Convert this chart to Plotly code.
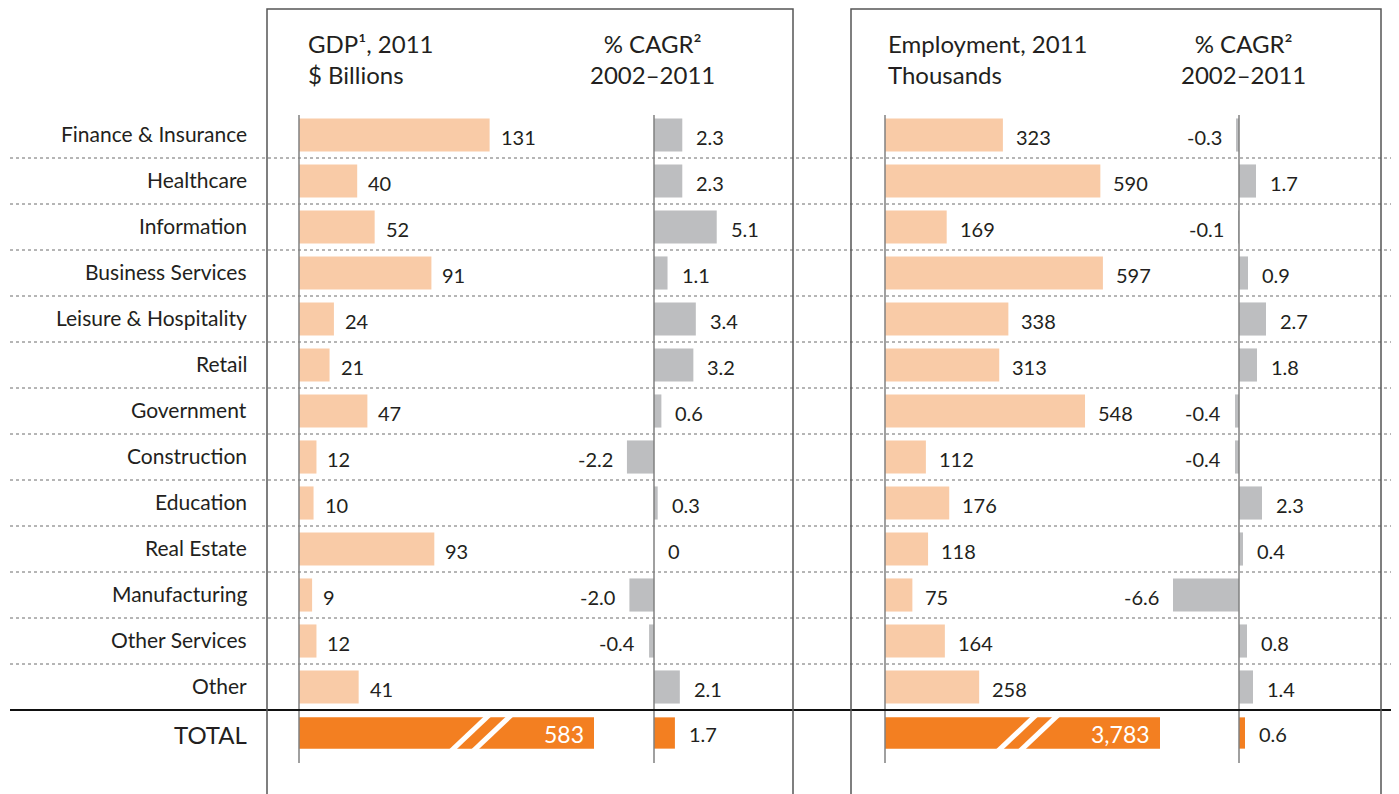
import plotly.graph_objects as go

# ---------------- data ----------------
categories = ["Finance & Insurance", "Healthcare", "Information", "Business Services",
              "Leisure & Hospitality", "Retail", "Government", "Construction",
              "Education", "Real Estate", "Manufacturing", "Other Services", "Other"]
total_label = "TOTAL"

gdp_2011 = [131, 40, 52, 91, 24, 21, 47, 12, 10, 93, 9, 12, 41]
gdp_cagr = [2.3, 2.3, 5.1, 1.1, 3.4, 3.2, 0.6, -2.2, 0.3, 0.0, -2.0, -0.4, 2.1]
emp_2011 = [323, 590, 169, 597, 338, 313, 548, 112, 176, 118, 75, 164, 258]
emp_cagr = [-0.3, 1.7, -0.1, 0.9, 2.7, 1.8, -0.4, -0.4, 2.3, 0.4, -6.6, 0.8, 1.4]

gdp_total = 583
gdp_total_cagr = 1.7
emp_total = 3783
emp_total_cagr = 0.6

headers = ["GDP¹, 2011<br>$ Billions",
           "% CAGR²<br>2002–2011",
           "Employment, 2011<br>Thousands",
           "% CAGR²<br>2002–2011"]

# ---------------- style / layout ----------------
OX, OY = 8, 8                      # page margin of the html body
W, H = 1399 - OX, 794 - OY
ROW0, ROW_H = 135, 46
FONT = "Lato, 'Noto Sans', sans-serif"
TXT = "#231F20"
LIGHT_ORANGE = "#F9CBA7"
GREY_BAR = "#BDBEC0"
ORANGE = "#F37F21"


def px(x):
    return (x - OX) / W


def py(y):
    return 1 - (y - OY) / H


def fmt_int(v):
    return f"{v:,.0f}"


def fmt_pct(v):
    return "0" if v == 0 else f"{v:.1f}"


panels = [
    dict(vals=gdp_2011, total=gdp_total, base=299, scale=1.455, fmt=fmt_int,
         color=LIGHT_ORANGE, shift=9, break_px=295, slashes=(0.58, 0.655),
         header=headers[0], hx=306, hanchor="left"),
    dict(vals=gdp_cagr, total=gdp_total_cagr, base=654, scale=12.3, fmt=fmt_pct,
         color=GREY_BAR, shift=12, break_px=None, slashes=None,
         header=headers[1], hx=652, hanchor="center"),
    dict(vals=emp_2011, total=emp_total, base=885, scale=0.365, fmt=fmt_int,
         color=LIGHT_ORANGE, shift=11, break_px=275, slashes=(0.48, 0.56),
         header=headers[2], hx=886, hanchor="left"),
    dict(vals=emp_cagr, total=emp_total_cagr, base=1239, scale=10.0, fmt=fmt_pct,
         color=GREY_BAR, shift=12, break_px=None, slashes=None,
         header=headers[3], hx=1243, hanchor="center"),
]

n = len(categories)
rows = list(range(n + 1))
y_top = (OY - ROW0) / ROW_H
y_bot = (OY + H - ROW0) / ROW_H

fig = go.Figure()
annotations = []
shapes = []

for k, p in enumerate(panels):
    xname = "x" if k == 0 else f"x{k+1}"
    lname = "xaxis" if k == 0 else f"xaxis{k+1}"
    lo = (OX - p["base"]) / p["scale"]
    hi = (OX + W - p["base"]) / p["scale"]
    ax = dict(domain=[0, 1], range=[lo, hi], visible=False, fixedrange=True)
    if k > 0:
        ax["overlaying"] = "x"
    fig.update_layout(**{lname: ax})

    drawn_total = p["total"] if p["break_px"] is None else p["break_px"] / p["scale"]
    xs = list(p["vals"]) + [drawn_total]
    colors = [p["color"]] * n + [ORANGE]
    widths = [0.72] * n + [0.68]
    fig.add_trace(go.Bar(x=xs, y=rows, orientation="h",
                         marker=dict(color=colors, line=dict(width=0)),
                         width=widths, xaxis=xname, yaxis="y",
                         hoverinfo="skip", showlegend=False))

    # value labels
    for i, v in enumerate(p["vals"]):
        neg = v < 0
        annotations.append(dict(x=v, y=i, xref=xname, yref="y", text=p["fmt"](v), showarrow=False,
                                xanchor="right" if neg else "left",
                                xshift=-p["shift"] if neg else p["shift"], yshift=-2,
                                font=dict(size=20, color=TXT, family=FONT)))
    # total label
    if p["break_px"] is not None:
        annotations.append(dict(x=drawn_total, y=n, xref=xname, yref="y", text=p["fmt"](p["total"]),
                                showarrow=False, xanchor="right", xshift=-8, yshift=-1,
                                font=dict(size=23, color="white", family=FONT)))
        # break slashes
        half = 0.42
        dx = (half * 2 * ROW_H * 1.06) / 2 / p["scale"]
        for f in p["slashes"]:
            cx = drawn_total * f
            shapes.append(dict(type="line", xref=xname, yref="y", x0=cx - dx, x1=cx + dx,
                               y0=n + half, y1=n - half,
                               line=dict(color="white", width=5), layer="above"))
    else:
        annotations.append(dict(x=p["total"], y=n, xref=xname, yref="y", text=p["fmt"](p["total"]),
                                showarrow=False, xanchor="left", xshift=p["shift"], yshift=-1,
                                font=dict(size=20, color=TXT, family=FONT)))

    # baseline
    shapes.append(dict(type="line", xref=xname, yref="y", x0=0, x1=0,
                       y0=(115 - ROW0) / ROW_H, y1=(763 - ROW0) / ROW_H,
                       line=dict(color="#808080", width=1.5), layer="above"))

    # header
    annotations.append(dict(x=px(p["hx"]), y=py(59), xref="paper", yref="paper", text=p["header"],
                            showarrow=False, xanchor=p["hanchor"], yanchor="middle",
                            align=p["hanchor"], font=dict(size=24, color=TXT, family=FONT)))

# category labels
for i, c in enumerate(categories):
    annotations.append(dict(x=px(249), y=i, xref="paper", yref="y", text=c, showarrow=False,
                            xanchor="right", yshift=2, font=dict(size=21, color=TXT, family=FONT)))
annotations.append(dict(x=px(249), y=n, xref="paper", yref="y", text=total_label, showarrow=False,
                        xanchor="right", yshift=-1, font=dict(size=24, color=TXT, family=FONT)))

# separators
for i in range(n - 1):
    shapes.append(dict(type="line", xref="paper", yref="y", x0=px(10), x1=1, y0=i + 0.5, y1=i + 0.5,
                       line=dict(color="#6d6d6d", width=1, dash="dot"), layer="below"))
shapes.append(dict(type="line", xref="paper", yref="y", x0=px(10), x1=1, y0=n - 0.5, y1=n - 0.5,
                   line=dict(color="#111111", width=2), layer="above"))

# boxes around the two sections
for x0, x1 in [(267, 793), (851, 1381)]:
    shapes.append(dict(type="rect", xref="paper", yref="paper", x0=px(x0), x1=px(x1),
                       y0=-0.1, y1=py(9), line=dict(color="#555555", width=1.5),
                       fillcolor="rgba(0,0,0,0)", layer="above"))

fig.update_layout(
    width=W, height=H,
    margin=dict(l=0, r=0, t=0, b=0),
    paper_bgcolor="white", plot_bgcolor="white",
    yaxis=dict(range=[y_bot, y_top], visible=False, fixedrange=True),
    barmode="overlay",
    showlegend=False,
    annotations=annotations,
    shapes=shapes,
    font=dict(family=FONT, color=TXT),
)

fig.write_html("out.html")
